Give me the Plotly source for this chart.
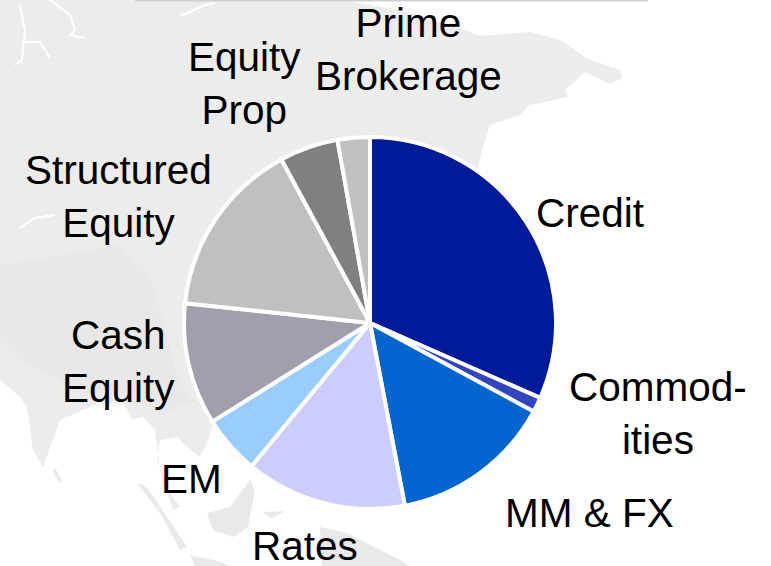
import plotly.graph_objects as go

W, H = 771, 566

categories = ["Credit", "Commodities", "MM &amp; FX", "Rates", "EM", "Cash Equity",
              "Structured Equity", "Equity Prop", "Prime Brokerage"]
shares = [31.6, 1.3, 14.1, 14.0, 5.1, 10.6, 15.4, 5.1, 2.8]
colors = ["#001A9A", "#3344C0", "#0366D0", "#CCCCFF", "#99CCFF", "#A0A0AC", "#C0C0C0", "#808080", "#C0C0C0"]
label_texts = ["Credit", "Commod-<br>ities", "MM &amp; FX", "Rates", "EM", "Cash<br>Equity",
               "Structured<br>Equity", "Equity<br>Prop", "Prime<br>Brokerage"]
label_x = [590, 658, 589, 305, 191, 118, 118, 245, 408]
label_y = [213, 413, 513, 546, 479, 361, 196, 84, 50]


def path(pts, close=True):
    return "M " + " L ".join(f"{x/W:.4f},{1-y/H:.4f}" for x, y in pts) + (" Z" if close else "")


land = [(0, 0), (340, 0), (400, 10), (465, 30), (480, 36), (530, 32), (560, 40), (590, 60), (620, 70), (622, 78),
        (610, 84), (585, 72), (565, 90), (568, 97), (530, 105), (520, 115), (490, 125), (482, 150), (478, 168),
        (370, 323), (215, 418), (207, 443), (200, 457), (187, 447), (177, 437), (160, 440), (157, 460), (170, 493),
        (180, 507), (173, 510), (160, 470), (155, 430), (143, 417), (132, 420), (123, 403), (100, 403), (60, 420),
        (43, 467), (33, 450), (27, 407), (20, 397), (0, 380)]
islands = [
    [(55, 468), (62, 480), (60, 483), (53, 472)],
    [(137, 483), (147, 487), (187, 547), (180, 550), (160, 513)],
    [(250, 480), (255, 490), (248, 527), (233, 537), (213, 530), (207, 513), (230, 507)],
    [(190, 555), (213, 560), (232, 566), (195, 566)],
    [(262, 512), (285, 511), (272, 518)],
    [(320, 527), (347, 533), (400, 560), (410, 566), (322, 566)],
]
rivers = [
    [(15, 65), (22, 60), (25, 30), (20, 5)],
    [(25, 42), (40, 42), (50, 58)],
    [(50, 0), (70, 15), (75, 30), (70, 35), (85, 38)],
    [(20, 228), (35, 218), (55, 215)],
    [(180, 16), (205, 5), (215, 3)],
]
shade = [(0, 265), (60, 255), (120, 245), (150, 275), (165, 330), (180, 385), (195, 400), (160, 415), (120, 390),
         (80, 395), (50, 375), (20, 360), (0, 340)]

shapes = [dict(type="path", xref="paper", yref="paper", path=path(land), fillcolor="#ECECEC", line_width=0, layer="below"),
          dict(type="path", xref="paper", yref="paper", path=path(shade), fillcolor="#E8E8E8", line_width=0, layer="below")]
for isl in islands:
    shapes.append(dict(type="path", xref="paper", yref="paper", path=path(isl), fillcolor="#E9E9E9", line_width=0, layer="below"))
for riv in rivers:
    shapes.append(dict(type="path", xref="paper", yref="paper", path=path(riv, close=False), fillcolor="rgba(0,0,0,0)",
                       line=dict(color="white", width=2), layer="below"))
shapes.append(dict(type="line", xref="paper", yref="paper", x0=135/W, x1=648/W, y0=1-0.5/H, y1=1-0.5/H,
                   line=dict(color="#CFCFD6", width=2)))

fig = go.Figure(go.Pie(
    labels=categories, values=shares, sort=False, direction="clockwise", rotation=0,
    marker=dict(colors=colors, line=dict(color="white", width=4)),
    textinfo="none", hoverinfo="label+percent", showlegend=False,
    domain=dict(x=[184/W, 556/W], y=[57/H, 429/H]),
))

annotations = [dict(x=x/W, y=1-y/H, xref="paper", yref="paper", text=t, showarrow=False, align="center",
                    xanchor="center", yanchor="middle", font=dict(family="Liberation Sans", size=40.5, color="black"))
               for t, x, y in zip(label_texts, label_x, label_y)]

fig.update_layout(width=W, height=H, margin=dict(l=0, r=0, t=0, b=0), paper_bgcolor="rgba(0,0,0,0)",
                  plot_bgcolor="rgba(0,0,0,0)", shapes=shapes, annotations=annotations)
fig.write_html("out.html", config=dict(displayModeBar=False),
               post_script="document.body.style.margin='0';document.body.style.overflow='hidden';")
